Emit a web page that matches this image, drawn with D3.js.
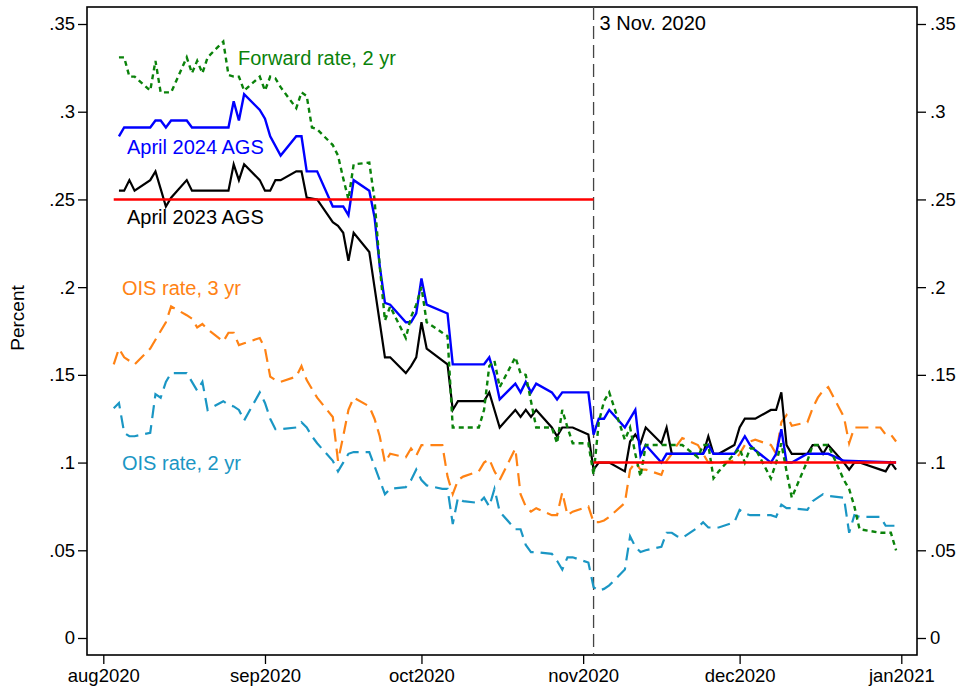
<!DOCTYPE html>
<html>
<head>
<meta charset="utf-8">
<script src="https://cdn.jsdelivr.net/npm/d3@7"></script>
<style>
  body { margin: 0; background: #fff; }
  svg text { font-family: "Liberation Sans", Arial, sans-serif; }
</style>
</head>
<body>
<svg id="chart" width="968" height="695"></svg>
<script>
// //////// DATA

// 2 yr forward rate (green, short dash)
const fwdDates = ["2020-08-04","2020-08-05","2020-08-06","2020-08-07","2020-08-10","2020-08-11","2020-08-12","2020-08-13","2020-08-14","2020-08-17","2020-08-18","2020-08-19","2020-08-20","2020-08-21","2020-08-24","2020-08-25","2020-08-26","2020-08-27","2020-08-28","2020-08-31","2020-09-01","2020-09-02","2020-09-03","2020-09-04","2020-09-07","2020-09-08","2020-09-09","2020-09-10","2020-09-11","2020-09-14","2020-09-15","2020-09-16","2020-09-17","2020-09-18","2020-09-21","2020-09-22","2020-09-23","2020-09-24","2020-09-25","2020-09-28","2020-09-29","2020-09-30","2020-10-01","2020-10-02","2020-10-05","2020-10-06","2020-10-07","2020-10-08","2020-10-09","2020-10-12","2020-10-13","2020-10-14","2020-10-15","2020-10-16","2020-10-19","2020-10-20","2020-10-21","2020-10-22","2020-10-23","2020-10-26","2020-10-27","2020-10-28","2020-10-29","2020-10-30","2020-11-02","2020-11-03","2020-11-04","2020-11-05","2020-11-06","2020-11-09","2020-11-10","2020-11-11","2020-11-12","2020-11-13","2020-11-16","2020-11-17","2020-11-18","2020-11-19","2020-11-20","2020-11-23","2020-11-24","2020-11-25","2020-11-26","2020-11-27","2020-11-30","2020-12-01","2020-12-02","2020-12-03","2020-12-04","2020-12-07","2020-12-08","2020-12-09","2020-12-10","2020-12-11","2020-12-14","2020-12-15","2020-12-16","2020-12-17","2020-12-18","2020-12-21","2020-12-22","2020-12-23","2020-12-24","2020-12-28","2020-12-29","2020-12-30","2020-12-31"];
const fwdValues = [.331,.331,.320,.320,.312,.329,.311,.311,.311,.331,.322,.329,.322,.331,.340,.321,.320,.320,.312,.320,.312,.320,.319,.314,.302,.311,.309,.291,.290,.281,.275,.262,.250,.270,.271,.250,.212,.181,.189,.171,.183,.190,.200,.180,.174,.172,.120,.120,.120,.120,.130,.155,.158,.143,.160,.151,.150,.135,.120,.120,.111,.130,.120,.111,.111,.093,.123,.135,.140,.113,.120,.105,.092,.110,.110,.110,.110,.110,.110,.103,.110,.110,.091,.095,.105,.108,.100,.108,.108,.091,.100,.111,.095,.080,.101,.110,.110,.110,.110,.090,.085,.075,.062,.060,.060,.060,.050];

// April 2024 AGS (blue)
const ags24Dates = ["2020-08-04","2020-08-05","2020-08-10","2020-08-11","2020-08-12","2020-08-13","2020-08-14","2020-08-17","2020-08-18","2020-08-25","2020-08-26","2020-08-27","2020-08-28","2020-08-31","2020-09-01","2020-09-02","2020-09-04","2020-09-07","2020-09-08","2020-09-09","2020-09-11","2020-09-14","2020-09-16","2020-09-17","2020-09-18","2020-09-21","2020-09-22","2020-09-23","2020-09-24","2020-09-25","2020-09-28","2020-09-29","2020-09-30","2020-10-01","2020-10-02","2020-10-06","2020-10-07","2020-10-13","2020-10-14","2020-10-15","2020-10-16","2020-10-19","2020-10-20","2020-10-21","2020-10-22","2020-10-23","2020-10-26","2020-10-27","2020-10-28","2020-11-02","2020-11-03","2020-11-04","2020-11-05","2020-11-06","2020-11-09","2020-11-10","2020-11-11","2020-11-12","2020-11-13","2020-11-16","2020-11-17","2020-11-24","2020-11-25","2020-11-26","2020-11-30","2020-12-01","2020-12-02","2020-12-03","2020-12-04","2020-12-07","2020-12-08","2020-12-09","2020-12-10","2020-12-11","2020-12-14","2020-12-18","2020-12-21","2020-12-31"];
const ags24Values = [.286,.291,.291,.295,.295,.291,.295,.295,.291,.291,.306,.295,.310,.301,.296,.286,.275,.286,.286,.266,.266,.246,.246,.241,.261,.255,.240,.212,.191,.190,.180,.180,.185,.205,.190,.185,.156,.156,.160,.150,.136,.145,.140,.146,.140,.145,.140,.136,.140,.140,.116,.125,.125,.130,.120,.125,.130,.104,.110,.100,.105,.105,.110,.105,.105,.110,.115,.110,.107,.100,.105,.119,.100,.100,.105,.105,.101,.100];

// April 2023 AGS (black)
const ags23Dates = ["2020-08-04","2020-08-05","2020-08-06","2020-08-07","2020-08-10","2020-08-11","2020-08-12","2020-08-13","2020-08-14","2020-08-17","2020-08-18","2020-08-25","2020-08-26","2020-08-27","2020-08-28","2020-08-31","2020-09-01","2020-09-02","2020-09-03","2020-09-04","2020-09-07","2020-09-08","2020-09-09","2020-09-11","2020-09-14","2020-09-15","2020-09-16","2020-09-17","2020-09-18","2020-09-21","2020-09-22","2020-09-23","2020-09-24","2020-09-25","2020-09-28","2020-09-29","2020-09-30","2020-10-01","2020-10-02","2020-10-06","2020-10-07","2020-10-08","2020-10-13","2020-10-14","2020-10-15","2020-10-16","2020-10-19","2020-10-20","2020-10-21","2020-10-22","2020-10-23","2020-10-26","2020-10-27","2020-10-28","2020-10-30","2020-11-02","2020-11-03","2020-11-04","2020-11-05","2020-11-06","2020-11-09","2020-11-10","2020-11-11","2020-11-12","2020-11-13","2020-11-16","2020-11-17","2020-11-18","2020-11-24","2020-11-25","2020-11-26","2020-11-27","2020-11-30","2020-12-01","2020-12-02","2020-12-04","2020-12-07","2020-12-08","2020-12-09","2020-12-10","2020-12-11","2020-12-14","2020-12-15","2020-12-16","2020-12-17","2020-12-18","2020-12-21","2020-12-22","2020-12-23","2020-12-24","2020-12-28","2020-12-29","2020-12-30","2020-12-31"];
const ags23Values = [.255,.255,.261,.255,.261,.266,.256,.246,.251,.261,.255,.255,.270,.261,.270,.261,.255,.255,.261,.261,.266,.266,.251,.250,.237,.235,.231,.215,.231,.220,.200,.180,.160,.160,.151,.155,.160,.180,.165,.156,.130,.135,.135,.140,.130,.120,.130,.126,.130,.126,.130,.120,.115,.120,.120,.116,.096,.100,.100,.100,.095,.112,.116,.111,.120,.111,.120,.105,.105,.115,.105,.105,.110,.120,.125,.125,.130,.130,.140,.110,.105,.105,.110,.110,.105,.110,.100,.096,.100,.100,.096,.095,.100,.096];

// OIS rate, 3 yr (orange, long dash)
const ois3Dates = ["2020-08-03","2020-08-04","2020-08-05","2020-08-06","2020-08-07","2020-08-10","2020-08-11","2020-08-12","2020-08-13","2020-08-14","2020-08-17","2020-08-18","2020-08-19","2020-08-20","2020-08-21","2020-08-24","2020-08-25","2020-08-26","2020-08-27","2020-08-28","2020-08-31","2020-09-01","2020-09-02","2020-09-03","2020-09-04","2020-09-07","2020-09-08","2020-09-09","2020-09-10","2020-09-11","2020-09-14","2020-09-15","2020-09-16","2020-09-17","2020-09-18","2020-09-21","2020-09-22","2020-09-23","2020-09-24","2020-09-25","2020-09-28","2020-09-29","2020-09-30","2020-10-01","2020-10-02","2020-10-05","2020-10-06","2020-10-07","2020-10-08","2020-10-09","2020-10-12","2020-10-13","2020-10-14","2020-10-15","2020-10-16","2020-10-19","2020-10-20","2020-10-21","2020-10-22","2020-10-23","2020-10-26","2020-10-27","2020-10-28","2020-10-29","2020-10-30","2020-11-02","2020-11-03","2020-11-04","2020-11-05","2020-11-06","2020-11-09","2020-11-10","2020-11-11","2020-11-12","2020-11-13","2020-11-16","2020-11-17","2020-11-18","2020-11-19","2020-11-20","2020-11-23","2020-11-24","2020-11-25","2020-11-26","2020-11-27","2020-11-30","2020-12-01","2020-12-02","2020-12-03","2020-12-04","2020-12-07","2020-12-08","2020-12-09","2020-12-10","2020-12-11","2020-12-14","2020-12-15","2020-12-16","2020-12-17","2020-12-18","2020-12-21","2020-12-22","2020-12-23","2020-12-24","2020-12-28","2020-12-29","2020-12-30","2020-12-31"];
const ois3Values = [.156,.165,.160,.158,.156,.165,.170,.175,.180,.189,.184,.182,.177,.179,.176,.169,.174,.174,.167,.168,.171,.165,.149,.147,.146,.149,.155,.147,.142,.137,.126,.101,.115,.130,.137,.132,.125,.115,.100,.105,.103,.108,.104,.110,.110,.110,.092,.082,.090,.092,.095,.100,.102,.095,.090,.108,.082,.075,.072,.074,.070,.070,.083,.070,.072,.075,.066,.066,.067,.069,.077,.096,.100,.096,.096,.093,.101,.105,.110,.114,.110,.105,.100,.100,.100,.101,.105,.110,.112,.113,.110,.105,.123,.127,.121,.123,.131,.137,.141,.143,.126,.111,.120,.120,.120,.116,.116,.112];

// OIS rate, 2 yr (light blue, long dash)
const ois2Dates = ois3Dates;
const ois2Values = [.131,.134,.117,.115,.115,.117,.139,.137,.146,.151,.151,.146,.141,.146,.130,.135,.133,.132,.130,.124,.140,.134,.125,.119,.119,.120,.123,.120,.115,.111,.101,.095,.100,.105,.106,.106,.098,.090,.082,.085,.086,.090,.096,.090,.087,.085,.085,.065,.080,.078,.077,.080,.075,.085,.072,.062,.062,.053,.049,.049,.048,.044,.039,.046,.046,.043,.029,.027,.028,.030,.039,.058,.052,.049,.050,.052,.060,.060,.058,.057,.063,.066,.063,.063,.063,.066,.073,.071,.070,.070,.070,.069,.076,.074,.074,.073,.078,.080,.082,.081,.080,.060,.070,.069,.069,.064,.064,.064];

// RBA cash-rate target (red steps)
const targetStart = ["2020-08-03", "2020-11-03"];
const targetEnd = ["2020-11-03", "2020-12-31"];
const targetValues = [0.25, 0.10];

const eventDate = "2020-11-03";
const eventLabel = "3 Nov. 2020";

const yTicks = [0, 0.05, 0.1, 0.15, 0.2, 0.25, 0.3, 0.35];
const xTicks = ["2020-08-01","2020-09-01","2020-10-01","2020-11-01","2020-12-01","2021-01-01"];

// //////// SCALES

const parse = d3.utcParse("%Y-%m-%d");
const svg = d3.select("#chart");

const frame = { left: 87, right: 917, top: 7, bottom: 655 };

const x = d3.scaleUtc()
  .domain([parse("2020-08-01"), parse("2021-01-01")])
  .range([103.3, 901.3]);

const y = d3.scaleLinear().domain([0, 0.35]).range([638, 24]);

const fmtY = (d) => (d === 0 ? "0" : d3.format(".2~f")(d).replace(/^0/, ""));
const fmtX = (d) => d3.utcFormat("%b%Y")(d).toLowerCase();

// //////// AXES

svg.append("rect")
  .attr("x", frame.left).attr("y", frame.top)
  .attr("width", frame.right - frame.left)
  .attr("height", frame.bottom - frame.top)
  .attr("fill", "none").attr("stroke", "#000").attr("stroke-width", 1.6);

const left = svg.append("g")
  .attr("transform", `translate(${frame.left},0)`)
  .call(d3.axisLeft(y).tickValues(yTicks).tickSize(9).tickPadding(3).tickFormat(fmtY));

const right = svg.append("g")
  .attr("transform", `translate(${frame.right},0)`)
  .call(d3.axisRight(y).tickValues(yTicks).tickSize(9).tickPadding(4).tickFormat(fmtY));

const bottom = svg.append("g")
  .attr("transform", `translate(0,${frame.bottom})`)
  .call(d3.axisBottom(x).tickValues(xTicks.map(parse)).tickSize(9).tickPadding(5).tickFormat(fmtX));

[left, right, bottom].forEach((g) => {
  g.select(".domain").remove();
  g.selectAll(".tick line").attr("stroke", "#000").attr("stroke-width", 1.3);
  g.selectAll(".tick text").attr("fill", "#000").attr("font-size", 18.5);
});

svg.append("text")
  .attr("transform", "translate(24,318) rotate(-90)")
  .attr("text-anchor", "middle")
  .attr("font-size", 19)
  .text("Percent");

// //////// MARKS

const plot = svg.append("g");

const line = d3.line()
  .x((d) => x(d.date))
  .y((d) => y(d.value));

function toPoints(dates, values) {
  return dates.map((d, i) => ({ date: parse(d), value: values[i] }));
}

// Event line
plot.append("line")
  .attr("x1", x(parse(eventDate))).attr("x2", x(parse(eventDate)))
  .attr("y1", frame.top).attr("y2", frame.bottom)
  .attr("stroke", "#444").attr("stroke-width", 1.3)
  .attr("stroke-dasharray", "13,6");

svg.append("text")
  .attr("x", x(parse(eventDate)) + 6).attr("y", 30)
  .attr("font-size", 20)
  .text(eventLabel);

const series = [
  { dates: ois2Dates, values: ois2Values, color: "#1a96c4", width: 2.2, dash: "13,7" },
  { dates: ois3Dates, values: ois3Values, color: "#ff8214", width: 2.2, dash: "13,7" },
  { dates: ags23Dates, values: ags23Values, color: "#000000", width: 2.2, dash: null },
  { dates: ags24Dates, values: ags24Values, color: "#0000ff", width: 2.4, dash: null },
  { dates: fwdDates, values: fwdValues, color: "#0a820a", width: 2.4, dash: "5,4" },
];

series.forEach((s) => {
  plot.append("path")
    .datum(toPoints(s.dates, s.values))
    .attr("fill", "none")
    .attr("stroke", s.color)
    .attr("stroke-width", s.width)
    .attr("stroke-linejoin", "miter")
    .attr("stroke-dasharray", s.dash)
    .attr("d", line);
});

// Target rate steps
targetValues.forEach((v, i) => {
  plot.append("line")
    .attr("x1", x(parse(targetStart[i]))).attr("x2", x(parse(targetEnd[i])))
    .attr("y1", y(v)).attr("y2", y(v))
    .attr("stroke", "#ff0000").attr("stroke-width", 2.4);
});

// //////// LABELS

const labels = [
  { text: "Forward rate, 2 yr", color: "#0a820a", x: 238, y: 65 },
  { text: "April 2024 AGS", color: "#0000ff", x: 127, y: 154 },
  { text: "April 2023 AGS", color: "#000000", x: 127, y: 224 },
  { text: "OIS rate, 3 yr", color: "#ff8214", x: 122, y: 295 },
  { text: "OIS rate, 2 yr", color: "#1a96c4", x: 122, y: 470 },
];

svg.append("g")
  .selectAll("text")
  .data(labels)
  .join("text")
  .attr("x", (d) => d.x)
  .attr("y", (d) => d.y)
  .attr("fill", (d) => d.color)
  .attr("font-size", 20)
  .text((d) => d.text);
</script>
</body>
</html>
